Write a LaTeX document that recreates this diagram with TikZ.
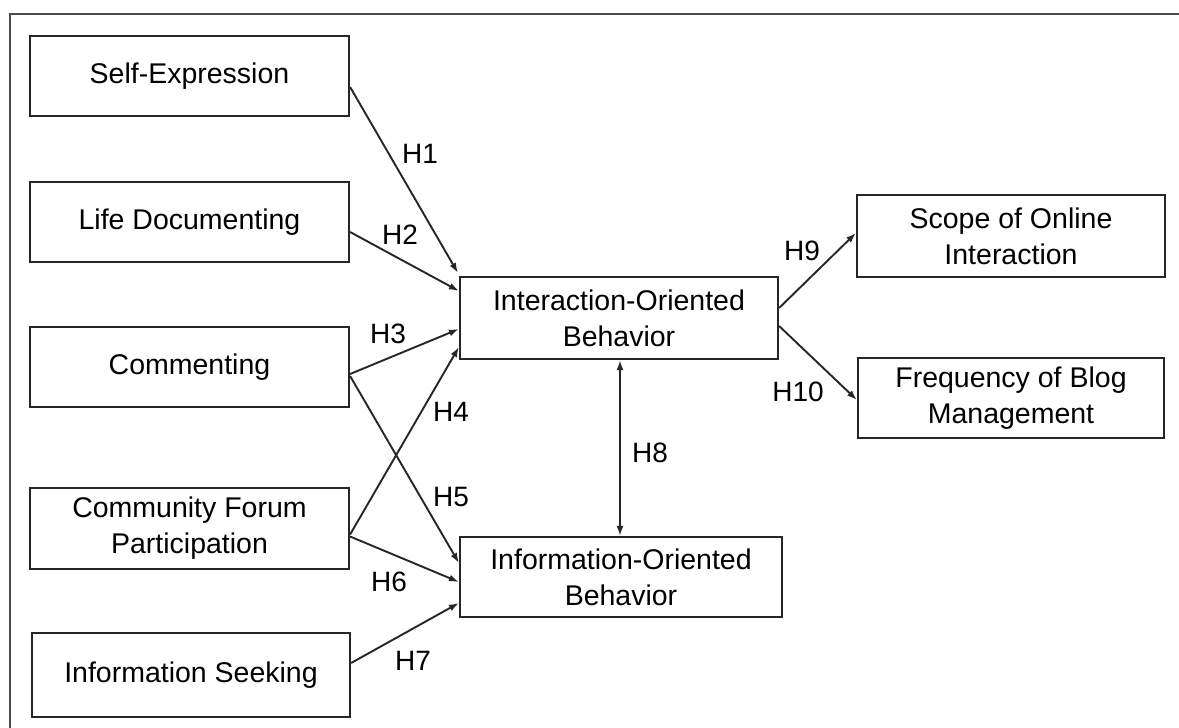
\documentclass[tikz,border=0pt]{standalone}
\usepackage{fontspec}
\setmainfont{Liberation Sans}
\usetikzlibrary{calc,arrows.meta}
\begin{document}
\begin{tikzpicture}[x=1pt,y=-1pt,
  box/.style={draw=black!85, line width=2.2pt, align=center, inner sep=0pt,
              font=\fontsize{28.5}{36}\selectfont},
  link/.style={draw=black!85, line width=1.9pt, -{Latex[length=10pt,width=7pt]}},
  hlab/.style={font=\fontsize{28}{32}\selectfont, inner sep=0pt}]
\useasboundingbox (0,0) rectangle (1179,728);

% outer frame (open at right and bottom)
\draw[black!70, line width=2.4pt] (10,728) -- (10,14) -- (1179,14);

% motive boxes
\node[box, minimum width=319pt, minimum height=80pt] (se) at (189.5,76) {Self-Expression};
\node[box, minimum width=319pt, minimum height=80pt] (ld) at (189.5,222) {Life Documenting};
\node[box, minimum width=319pt, minimum height=80pt] (cm) at (189.5,367) {Commenting};
\node[box, minimum width=319pt, minimum height=81pt] (cf) at (189.5,528.5) {Community Forum\\Participation};
\node[box, minimum width=318pt, minimum height=84pt] (is) at (191,675) {Information Seeking};

% behaviour boxes
\node[box, minimum width=318pt, minimum height=82pt] (iob) at (619,318) {Interaction-Oriented\\Behavior};
\node[box, minimum width=322pt, minimum height=80pt] (inf) at (621,577) {Information-Oriented\\Behavior};

% outcome boxes
\node[box, minimum width=308pt, minimum height=82pt] (soi) at (1011,236) {Scope of Online\\Interaction};
\node[box, minimum width=306pt, minimum height=80pt] (fbm) at (1011,398) {Frequency of Blog\\Management};

% hypothesised paths
\draw[link] ($(se.east)+(0,11)$) -- ($(iob.north west)+(-1,-3)$);
\draw[link] ($(ld.east)+(0,10)$) -- ($(iob.west)+(0,-27)$);
\draw[link] ($(cm.east)+(0,7)$) -- ($(iob.west)+(0,11)$);
\draw[link] ($(cf.east)+(0,6)$) -- ($(iob.west)+(0,29)$);
\draw[link] ($(cm.east)+(0,9)$) -- ($(inf.west)+(0,-14)$);
\draw[link] ($(cf.east)+(0,8)$) -- ($(inf.west)+(0,5)$);
\draw[link] ($(is.east)+(0,-12)$) -- ($(inf.west)+(0,26)$);
\draw[draw=black!85, line width=1.9pt, {Latex[length=10pt,width=7pt]}-{Latex[length=10pt,width=7pt]}]
  ($(iob.south)+(1,0)$) -- ($(inf.north)+(-1,0)$);
\draw[link] ($(iob.east)+(0,-10)$) -- ($(soi.west)+(0,-3)$);
\draw[link] ($(iob.east)+(0,8)$) -- ($(fbm.west)+(0,2)$);

% path labels
\node[hlab] (h1) at (420,154) {H1};
\node[hlab] (h2) at (400,235) {H2};
\node[hlab] (h3) at (388,334) {H3};
\node[hlab] (h4) at (451,412) {H4};
\node[hlab] (h5) at (451,497) {H5};
\node[hlab] (h6) at (389,582) {H6};
\node[hlab] (h7) at (413,661) {H7};
\node[hlab] (h8) at (650,453) {H8};
\node[hlab] (h9) at (802,251) {H9};
\node[hlab] (h10) at (798,392) {H10};
\end{tikzpicture}
\end{document}
